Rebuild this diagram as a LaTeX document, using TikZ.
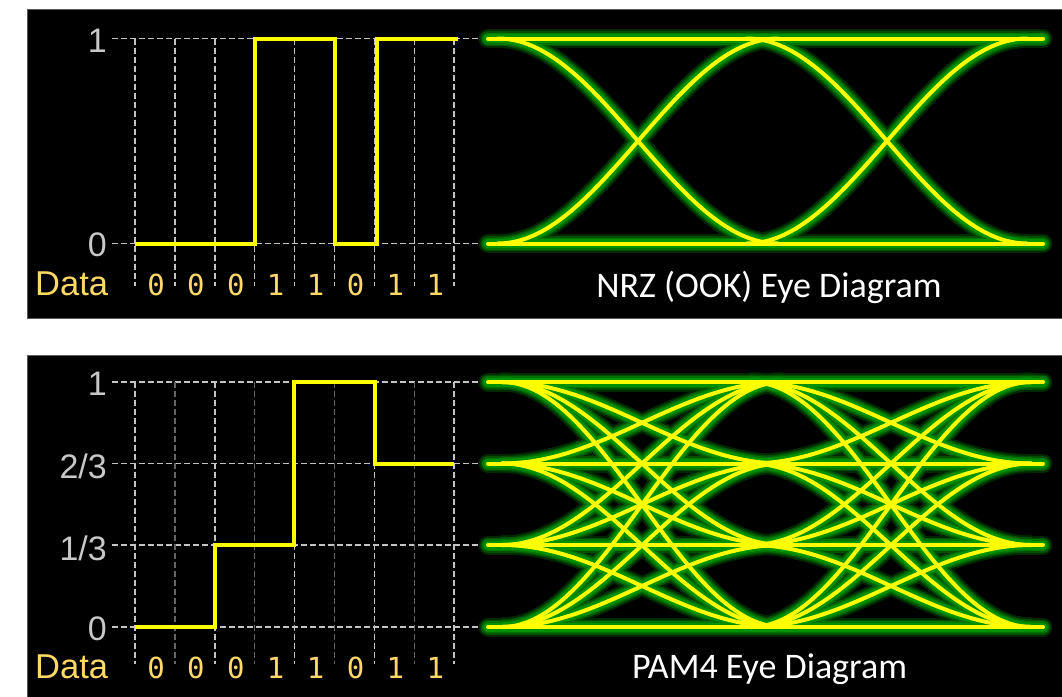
\documentclass[tikz,border=0pt]{standalone}
\usepackage{fontspec}
\newfontfamily\arialf{Liberation Sans}
\newfontfamily\calibrif{Carlito}
\newfontfamily\monof{DejaVu Sans Mono}
\definecolor{gold}{RGB}{255,217,102}
\definecolor{lblgray}{RGB}{200,200,200}
\definecolor{gridbright}{RGB}{195,195,195}
\definecolor{griddim}{RGB}{100,100,100}
\definecolor{sigyellow}{RGB}{255,255,0}
\definecolor{glowA}{RGB}{0,40,0}
\definecolor{glowB}{RGB}{0,80,0}
\definecolor{glowC}{RGB}{0,115,0}
\definecolor{glowD}{RGB}{0,145,0}
\definecolor{panelborder}{RGB}{90,90,90}
\tikzset{
  panel/.style={fill=black, draw=panelborder, line width=1},
  gridline/.style={dashed, dash pattern=on 6pt off 3pt, line width=1.5, draw=gridbright},
  dimgrid/.style={gridline, draw=griddim},
  wave/.style={draw=sigyellow, line width=4, line join=miter},
  lvl/.style={anchor=east, text=lblgray, inner sep=0, font=\arialf\fontsize{34}{34}\selectfont},
  datalbl/.style={anchor=base west, text=gold, inner sep=0, font=\arialf\fontsize{34.5}{34.5}\selectfont},
  bit/.style={anchor=base, text=gold, inner sep=0, font=\monof\fontsize{29}{29}\selectfont},
  eyetitle/.style={anchor=base, text=white, inner sep=0, font=\calibrif\fontsize{36}{36}\selectfont},
  gA/.style={draw=glowA, line width=19, line cap=round},
  gB/.style={draw=glowB, line width=15, line cap=round},
  gC/.style={draw=glowC, line width=12, line cap=round},
  gD/.style={draw=glowD, line width=9, line cap=round},
  gY/.style={draw=sigyellow, line width=4, line cap=round},
}
\newcommand\eyecurves[4]{% #1 style, #2 levels, #3 crossing1, #4 crossing2
  \foreach \ya in {#2} {
    \foreach \yb in {#2} {
      \draw[#1] plot[domain={max(-1,(488-#3)/140)}:1, samples=40, smooth] ({#3+140*\x}, {(\ya+\yb)/2 - (\ya-\yb)/2*sin(90*\x)});
      \draw[#1] plot[domain=-1:{min(1,(1043-#4)/140)}, samples=40, smooth] ({#4+140*\x}, {(\ya+\yb)/2 - (\ya-\yb)/2*sin(90*\x)});
    }
  }
  \foreach \ya in {#2} { \draw[#1] (488,\ya) -- (1043,\ya); }
}
\begin{document}
\begin{tikzpicture}[x=1pt,y=-1pt]
\useasboundingbox (0,0) rectangle (1062,696);
\fill[white] (0,0) rectangle (1062,696);
% panels
\draw[panel] (27,9.5) rectangle (1062,318);
\draw[panel] (27,355) rectangle (1062,697);

% ---------- top: NRZ ----------
\foreach \y in {38.5,243.5} { \draw[gridline] (112,\y) -- (488,\y); }
\foreach \i in {0,...,8} { \draw[gridline] ({135+39.9*\i},38.5) -- ({135+39.9*\i},286); }
\draw[wave] (135,243.5) -- (255,243.5) -- (255,38.5) -- (335,38.5) -- (335,243.5) -- (377,243.5) -- (377,38.5) -- (458,38.5);
\node[lvl] (t1) at (107,40.5) {1};
\node[lvl] (t0) at (107,244.5) {0};
\node[datalbl] (tdata) at (35,295) {Data};
\foreach \b [count=\i from 0] in {0,0,0,1,1,0,1,1} { \node[bit] (tb\i) at ({156+39.9*\i},295) {\b}; }
\foreach \s in {gA,gB,gC,gD,gY} { \eyecurves{\s}{38.5,243.5}{638}{887} }
\node[eyetitle] (ttitle) at (769,297) {NRZ (OOK) Eye Diagram};

% ---------- bottom: PAM4 ----------
\foreach \y in {382,463.5,545,627} { \draw[gridline] (112,\y) -- (488,\y); }
\foreach \i in {0,2,4,6,8} { \draw[gridline] ({135+39.9*\i},382) -- ({135+39.9*\i},664); }
\foreach \i in {1,3,5,7} { \draw[dimgrid] ({135+39.9*\i},382) -- ({135+39.9*\i},664); }
\draw[wave] (135,627) -- (215,627) -- (215,545) -- (294,545) -- (294,382) -- (375,382) -- (375,463.5) -- (454,463.5);
\node[lvl] (b1) at (107,384) {1};
\node[lvl] (b23) at (107,466.5) {2/3};
\node[lvl] (b13) at (107,548) {1/3};
\node[lvl] (b0) at (107,629) {0};
\node[datalbl] (bdata) at (35,678) {Data};
\foreach \b [count=\i from 0] in {0,0,0,1,1,0,1,1} { \node[bit] (bb\i) at ({156+39.9*\i},678) {\b}; }
\foreach \s in {gA,gB,gC,gD,gY} { \eyecurves{\s}{382,463.5,545,627}{642}{891} }
\node[eyetitle] (btitle) at (769.5,678) {PAM4 Eye Diagram};
\end{tikzpicture}
\end{document}
